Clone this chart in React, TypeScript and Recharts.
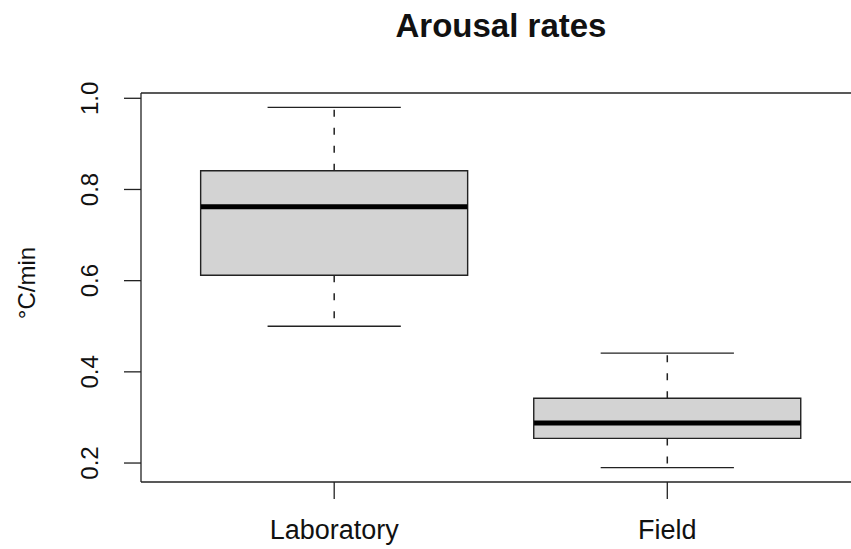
import { Bar, ComposedChart, Label, ReferenceLine, XAxis, YAxis } from 'recharts';

const GROUPS = ['Laboratory', 'Field'];
const POSITIONS = [1, 2];
const WHISKER_LOW = [0.5, 0.19];
const Q1 = [0.612, 0.254];
const MEDIAN = [0.762, 0.288];
const Q3 = [0.841, 0.342];
const WHISKER_HIGH = [0.98, 0.441];
const Y_TICKS = [0.2, 0.4, 0.6, 0.8, 1.0];

const X_DOMAIN: [number, number] = [0.42, 2.5515];
const Y_DOMAIN: [number, number] = [0.1584, 1.0116];

const FONT = '"Liberation Sans", Arial, Helvetica, sans-serif';
const INK = '#222';
const BOX_HALF = 0.4;
const CAP_HALF = 0.2;

const rows = POSITIONS.map((pos, i) => ({
  pos,
  name: GROUPS[i],
  box: [Q1[i], Q3[i]],
}));

function XTick({ x, y, payload }: any) {
  const idx = POSITIONS.indexOf(payload.value);
  return (
    <text x={x} y={y + 40} textAnchor="middle" fontFamily={FONT} fontSize={27} fill="#111">
      {GROUPS[idx]}
    </text>
  );
}

function YTick({ x, y, payload }: any) {
  const cx = x - 34;
  return (
    <text
      x={cx}
      y={y}
      textAnchor="middle"
      dominantBaseline="central"
      transform={`rotate(-90, ${cx}, ${y})`}
      fontFamily={FONT}
      fontSize={24}
      fill="#111"
    >
      {payload.value.toFixed(1)}
    </text>
  );
}

export default function App() {
  return (
    <div style={{ position: 'absolute', left: 0, top: 0, width: 851, height: 549, background: '#fff' }}>
      <div
        style={{
          position: 'absolute',
          left: 141,
          top: 9,
          width: 720,
          textAlign: 'center',
          fontFamily: FONT,
          fontWeight: 'bold',
          fontSize: 33,
          lineHeight: '33px',
          color: '#111',
        }}
      >
        Arousal rates
      </div>
      <ComposedChart width={851} height={549} data={rows} margin={{ top: 93, right: 0, bottom: 0, left: 0 }}>
        <XAxis
          dataKey="pos"
          type="number"
          domain={X_DOMAIN}
          allowDataOverflow
          ticks={POSITIONS}
          height={67}
          tickSize={17}
          tickMargin={0}
          axisLine={{ stroke: INK, strokeWidth: 1.3 }}
          tickLine={{ stroke: INK, strokeWidth: 1.3 }}
          tick={<XTick />}
        />
        <YAxis
          type="number"
          domain={Y_DOMAIN}
          allowDataOverflow
          ticks={Y_TICKS}
          width={141}
          tickSize={17}
          tickMargin={0}
          axisLine={{ stroke: INK, strokeWidth: 1.3 }}
          tickLine={{ stroke: INK, strokeWidth: 1.3 }}
          tick={<YTick />}
        >
          <Label
            content={() => (
              <text
                x={26}
                y={283}
                textAnchor="middle"
                dominantBaseline="central"
                transform="rotate(-90, 26, 283)"
                fontFamily={FONT}
                fontSize={24}
                fill="#111"
              >
                °C/min
              </text>
            )}
          />
        </YAxis>
        <ReferenceLine y={Y_DOMAIN[1]} stroke={INK} strokeWidth={1.3} />
        <Bar dataKey="box" barSize={267} fill="#d3d3d3" stroke={INK} strokeWidth={1.4} isAnimationActive={false} />
        {POSITIONS.map((pos, i) => [
          <ReferenceLine
            key={`wu${i}`}
            segment={[{ x: pos, y: Q3[i] }, { x: pos, y: WHISKER_HIGH[i] }]}
            stroke={INK}
            strokeWidth={1.5}
            strokeDasharray="7 11"
          />,
          <ReferenceLine
            key={`wl${i}`}
            segment={[{ x: pos, y: Q1[i] }, { x: pos, y: WHISKER_LOW[i] }]}
            stroke={INK}
            strokeWidth={1.5}
            strokeDasharray="7 11"
          />,
          <ReferenceLine
            key={`cu${i}`}
            segment={[{ x: pos - CAP_HALF, y: WHISKER_HIGH[i] }, { x: pos + CAP_HALF, y: WHISKER_HIGH[i] }]}
            stroke={INK}
            strokeWidth={1.3}
          />,
          <ReferenceLine
            key={`cl${i}`}
            segment={[{ x: pos - CAP_HALF, y: WHISKER_LOW[i] }, { x: pos + CAP_HALF, y: WHISKER_LOW[i] }]}
            stroke={INK}
            strokeWidth={1.3}
          />,
          <ReferenceLine
            key={`md${i}`}
            segment={[{ x: pos - BOX_HALF, y: MEDIAN[i] }, { x: pos + BOX_HALF, y: MEDIAN[i] }]}
            stroke="#000"
            strokeWidth={5}
          />,
        ])}
      </ComposedChart>
    </div>
  );
}
